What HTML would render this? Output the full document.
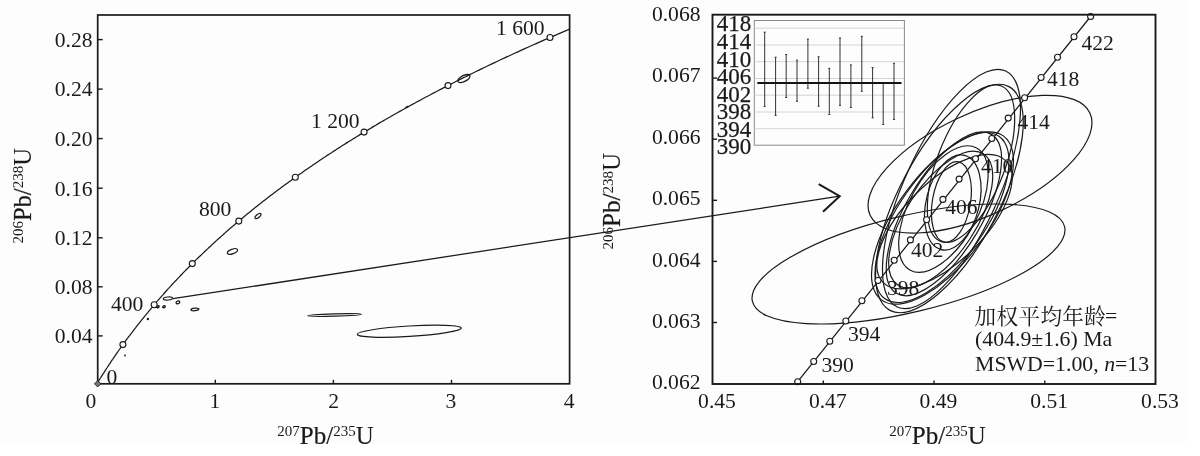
<!DOCTYPE html>
<html><head><meta charset="utf-8"><title>U-Pb concordia</title>
<style>
html,body{margin:0;padding:0;background:#fff;}
body{width:1200px;height:456px;overflow:hidden;font-family:"Liberation Serif",serif;}
svg{display:block;filter:grayscale(100%);}
text{font-family:"Liberation Serif",serif;fill:#1a1a1a;}
.t{font-size:21.6px;}
.t2{font-size:21.8px;}
.ax{font-size:24px;}
.sup{font-size:15px;}
.pb{stroke:#1a1a1a;stroke-width:0.22px;}
</style></head><body>
<svg width="1200" height="456" viewBox="0 0 1200 456">
<rect x="0" y="0" width="1200" height="456" fill="#ffffff"/>
<rect x="0" y="0" width="1185.5" height="444" fill="#fdfdfb"/>
<rect x="97.7" y="15.0" width="471.90000000000003" height="368.8" fill="none" stroke="#1a1a1a" stroke-width="1.7"/>
<line x1="97.7" y1="39.6" x2="102.7" y2="39.6" stroke="#1a1a1a" stroke-width="1.4"/>
<text x="92.5" y="46.9" text-anchor="end" class="t">0.28</text>
<line x1="97.7" y1="89.1" x2="102.7" y2="89.1" stroke="#1a1a1a" stroke-width="1.4"/>
<text x="92.5" y="96.39999999999999" text-anchor="end" class="t">0.24</text>
<line x1="97.7" y1="138.6" x2="102.7" y2="138.6" stroke="#1a1a1a" stroke-width="1.4"/>
<text x="92.5" y="145.9" text-anchor="end" class="t">0.20</text>
<line x1="97.7" y1="188.2" x2="102.7" y2="188.2" stroke="#1a1a1a" stroke-width="1.4"/>
<text x="92.5" y="195.5" text-anchor="end" class="t">0.16</text>
<line x1="97.7" y1="237.8" x2="102.7" y2="237.8" stroke="#1a1a1a" stroke-width="1.4"/>
<text x="92.5" y="245.10000000000002" text-anchor="end" class="t">0.12</text>
<line x1="97.7" y1="286.8" x2="102.7" y2="286.8" stroke="#1a1a1a" stroke-width="1.4"/>
<text x="92.5" y="294.1" text-anchor="end" class="t">0.08</text>
<line x1="97.7" y1="335.9" x2="102.7" y2="335.9" stroke="#1a1a1a" stroke-width="1.4"/>
<text x="92.5" y="343.2" text-anchor="end" class="t">0.04</text>
<text x="90.8" y="407.5" text-anchor="middle" class="t">0</text>
<line x1="215.3" y1="383.8" x2="215.3" y2="379.8" stroke="#1a1a1a" stroke-width="1.4"/>
<text x="214.8" y="407.5" text-anchor="middle" class="t">1</text>
<line x1="333.4" y1="383.8" x2="333.4" y2="379.8" stroke="#1a1a1a" stroke-width="1.4"/>
<text x="333.7" y="407.5" text-anchor="middle" class="t">2</text>
<line x1="451.5" y1="383.8" x2="451.5" y2="379.8" stroke="#1a1a1a" stroke-width="1.4"/>
<text x="451.0" y="407.5" text-anchor="middle" class="t">3</text>
<text x="569.1" y="407.5" text-anchor="middle" class="t">4</text>
<polyline fill="none" stroke="#1a1a1a" stroke-width="1.25" points="97.2,383.3 97.8,382.3 98.4,381.4 99.0,380.4 99.5,379.5 100.1,378.5 100.7,377.6 101.3,376.6 101.9,375.7 102.6,374.7 103.2,373.7 103.8,372.8 104.4,371.8 105.0,370.9 105.6,369.9 106.3,368.9 106.9,368.0 107.5,367.0 108.1,366.0 108.8,365.1 109.4,364.1 110.1,363.1 110.7,362.2 111.4,361.2 112.0,360.2 112.7,359.3 113.3,358.3 114.0,357.3 114.7,356.4 115.3,355.4 116.0,354.4 116.7,353.4 117.4,352.5 118.0,351.5 118.7,350.5 119.4,349.5 120.1,348.5 120.8,347.6 121.5,346.6 122.2,345.6 122.9,344.6 123.6,343.6 124.3,342.7 125.1,341.7 125.8,340.7 126.5,339.7 127.2,338.7 128.0,337.7 128.7,336.7 129.4,335.8 130.2,334.8 130.9,333.8 131.7,332.8 132.4,331.8 133.2,330.8 133.9,329.8 134.7,328.8 135.5,327.8 136.2,326.8 137.0,325.8 137.8,324.8 138.6,323.8 139.4,322.8 140.2,321.8 141.0,320.8 141.8,319.8 142.6,318.8 143.4,317.8 144.2,316.8 145.0,315.8 145.8,314.8 146.6,313.8 147.5,312.8 148.3,311.8 149.1,310.8 150.0,309.8 150.8,308.8 151.7,307.8 152.5,306.7 153.4,305.7 154.2,304.7 155.1,303.7 156.0,302.7 156.8,301.7 157.7,300.7 158.6,299.6 159.5,298.6 160.4,297.6 161.3,296.6 162.2,295.6 163.1,294.6 164.0,293.5 164.9,292.5 165.8,291.5 166.7,290.5 167.6,289.4 168.6,288.4 169.5,287.4 170.5,286.4 171.4,285.3 172.3,284.3 173.3,283.3 174.3,282.2 175.2,281.2 176.2,280.2 177.2,279.1 178.1,278.1 179.1,277.1 180.1,276.0 181.1,275.0 182.1,274.0 183.1,272.9 184.1,271.9 185.1,270.9 186.1,269.8 187.2,268.8 188.2,267.7 189.2,266.7 190.3,265.7 191.3,264.6 192.3,263.6 193.4,262.5 194.5,261.5 195.5,260.4 196.6,259.4 197.7,258.3 198.7,257.3 199.8,256.2 200.9,255.2 202.0,254.1 203.1,253.1 204.2,252.0 205.3,251.0 206.4,249.9 207.6,248.9 208.7,247.8 209.8,246.7 211.0,245.7 212.1,244.6 213.3,243.6 214.4,242.5 215.6,241.4 216.7,240.4 217.9,239.3 219.1,238.3 220.3,237.2 221.5,236.1 222.7,235.1 223.9,234.0 225.1,232.9 226.3,231.8 227.5,230.8 228.7,229.7 230.0,228.6 231.2,227.6 232.5,226.5 233.7,225.4 235.0,224.3 236.2,223.3 237.5,222.2 238.8,221.1 240.1,220.0 241.3,219.0 242.6,217.9 243.9,216.8 245.2,215.7 246.6,214.6 247.9,213.5 249.2,212.5 250.5,211.4 251.9,210.3 253.2,209.2 254.6,208.1 255.9,207.0 257.3,205.9 258.7,204.8 260.1,203.8 261.4,202.7 262.8,201.6 264.2,200.5 265.6,199.4 267.1,198.3 268.5,197.2 269.9,196.1 271.3,195.0 272.8,193.9 274.2,192.8 275.7,191.7 277.2,190.6 278.6,189.5 280.1,188.4 281.6,187.3 283.1,186.2 284.6,185.1 286.1,184.0 287.6,182.9 289.1,181.8 290.7,180.7 292.2,179.5 293.7,178.4 295.3,177.3 296.9,176.2 298.4,175.1 300.0,174.0 301.6,172.9 303.2,171.8 304.8,170.6 306.4,169.5 308.0,168.4 309.6,167.3 311.3,166.2 312.9,165.0 314.5,163.9 316.2,162.8 317.9,161.7 319.5,160.5 321.2,159.4 322.9,158.3 324.6,157.2 326.3,156.0 328.0,154.9 329.8,153.8 331.5,152.7 333.2,151.5 335.0,150.4 336.7,149.3 338.5,148.1 340.3,147.0 342.0,145.8 343.8,144.7 345.6,143.6 347.4,142.4 349.3,141.3 351.1,140.2 352.9,139.0 354.8,137.9 356.6,136.7 358.5,135.6 360.4,134.4 362.3,133.3 364.1,132.1 366.0,131.0 368.0,129.9 369.9,128.7 371.8,127.6 373.7,126.4 375.7,125.3 377.6,124.1 379.6,122.9 381.6,121.8 383.6,120.6 385.6,119.5 387.6,118.3 389.6,117.2 391.6,116.0 393.7,114.8 395.7,113.7 397.8,112.5 399.8,111.4 401.9,110.2 404.0,109.0 406.1,107.9 408.2,106.7 410.3,105.5 412.4,104.4 414.6,103.2 416.7,102.0 418.9,100.9 421.1,99.7 423.2,98.5 425.4,97.3 427.6,96.2 429.9,95.0 432.1,93.8 434.3,92.6 436.6,91.5 438.8,90.3 441.1,89.1 443.4,87.9 445.7,86.7 448.0,85.6 450.3,84.4 452.6,83.2 454.9,82.0 457.3,80.8 459.7,79.6 462.0,78.4 464.4,77.3 466.8,76.1 469.2,74.9 471.6,73.7 474.1,72.5 476.5,71.3 479.0,70.1 481.4,68.9 483.9,67.7 486.4,66.5 488.9,65.3 491.4,64.1 494.0,62.9 496.5,61.7 499.0,60.5 501.6,59.3 504.2,58.1 506.8,56.9 509.4,55.7 512.0,54.5 514.6,53.3 517.3,52.1 519.9,50.9 522.6,49.6 525.3,48.4 528.0,47.2 530.7,46.0 533.4,44.8 536.2,43.6 538.9,42.4 541.7,41.1 544.4,39.9 547.2,38.7 550.0,37.5 552.9,36.3 555.7,35.1 558.5,33.8 561.4,32.6 564.3,31.4 567.2,30.2 569.6,29.1"/>
<circle cx="122.9" cy="344.6" r="3" fill="#fdfdfb" stroke="#1a1a1a" stroke-width="1.1"/>
<circle cx="154.2" cy="304.7" r="3" fill="#fdfdfb" stroke="#1a1a1a" stroke-width="1.1"/>
<circle cx="192.3" cy="263.6" r="3" fill="#fdfdfb" stroke="#1a1a1a" stroke-width="1.1"/>
<circle cx="238.8" cy="221.1" r="3" fill="#fdfdfb" stroke="#1a1a1a" stroke-width="1.1"/>
<circle cx="295.3" cy="177.3" r="3" fill="#fdfdfb" stroke="#1a1a1a" stroke-width="1.1"/>
<circle cx="364.1" cy="132.1" r="3" fill="#fdfdfb" stroke="#1a1a1a" stroke-width="1.1"/>
<circle cx="448.0" cy="85.6" r="3" fill="#fdfdfb" stroke="#1a1a1a" stroke-width="1.1"/>
<circle cx="550.0" cy="37.5" r="3" fill="#fdfdfb" stroke="#1a1a1a" stroke-width="1.1"/>
<path d="M94.5,383.8 L97.7,380.6 L100.9,383.8 L97.7,387.0 Z" fill="#777" stroke="#1a1a1a" stroke-width="0.9"/>
<text x="106.5" y="383.5" class="t">0</text>
<text x="111" y="311" class="t">400</text>
<text x="199" y="216" class="t">800</text>
<text x="311" y="128.4" class="t">1 200</text>
<text x="496" y="35" class="t">1 600</text>
<ellipse cx="334.5" cy="315" rx="26.8" ry="1.1" transform="rotate(-1.8 334.5 315)" fill="none" stroke="#1a1a1a" stroke-width="1.2"/>
<ellipse cx="409.3" cy="331.2" rx="52.1" ry="5.2" transform="rotate(-3.5 409.3 331.2)" fill="none" stroke="#1a1a1a" stroke-width="1.2"/>
<ellipse cx="463.9" cy="78.5" rx="6.6" ry="3.0" transform="rotate(-27 463.9 78.5)" fill="none" stroke="#1a1a1a" stroke-width="1.35"/>
<ellipse cx="258" cy="216" rx="3.6" ry="1.6" transform="rotate(-40 258 216)" fill="none" stroke="#1a1a1a" stroke-width="1.25"/>
<ellipse cx="232.5" cy="251.5" rx="5.3" ry="2.3" transform="rotate(-20 232.5 251.5)" fill="none" stroke="#1a1a1a" stroke-width="1.25"/>
<ellipse cx="167.9" cy="298.5" rx="4.6" ry="1.5" transform="rotate(-5 167.9 298.5)" fill="none" stroke="#1a1a1a" stroke-width="1.2"/>
<ellipse cx="177.9" cy="302.4" rx="1.9" ry="1.4" transform="rotate(-20 177.9 302.4)" fill="none" stroke="#1a1a1a" stroke-width="1.3"/>
<ellipse cx="164" cy="306.8" rx="1.3" ry="0.9" transform="rotate(-20 164 306.8)" fill="none" stroke="#1a1a1a" stroke-width="1.4"/>
<ellipse cx="157.9" cy="306.8" rx="1.3" ry="0.9" transform="rotate(-20 157.9 306.8)" fill="none" stroke="#1a1a1a" stroke-width="1.4"/>
<ellipse cx="194.9" cy="309.4" rx="4.0" ry="1.3" transform="rotate(-5 194.9 309.4)" fill="none" stroke="#1a1a1a" stroke-width="1.25"/>
<circle cx="147.9" cy="319" r="1.2" fill="#1a1a1a"/>
<circle cx="125" cy="355.5" r="0.9" fill="#1a1a1a"/>
<line x1="405.5" y1="107.6" x2="408.5" y2="106.2" stroke="#1a1a1a" stroke-width="1.6"/>
<line x1="173" y1="298.7" x2="839.7" y2="196.2" stroke="#1a1a1a" stroke-width="1.25"/>
<polyline points="818.7,184.2 839.7,196.2 823,211.7" fill="none" stroke="#1a1a1a" stroke-width="2.0" stroke-linejoin="miter"/>
<text x="325.5" y="443.6" text-anchor="middle" class="ax" style="font-size:25px"><tspan class="sup" dy="-7.5">207</tspan><tspan dy="7.5" class="pb">Pb/</tspan><tspan class="sup" dy="-7.5">235</tspan><tspan dy="7.5">U</tspan></text>
<text x="30.8" y="195.8" text-anchor="middle" class="ax" style="font-size:24.6px" transform="rotate(-90 30.8 195.8)"><tspan class="sup" dy="-7.5">206</tspan><tspan dy="7.5" class="pb">Pb/</tspan><tspan class="sup" dy="-7.5">238</tspan><tspan dy="7.5">U</tspan></text>
<text x="700.5" y="389.4" text-anchor="end" class="t">0.062</text>
<line x1="712.5" y1="322.5" x2="717.0" y2="322.5" stroke="#1a1a1a" stroke-width="1.4"/>
<text x="700.5" y="327.9" text-anchor="end" class="t">0.063</text>
<line x1="712.5" y1="261.4" x2="717.0" y2="261.4" stroke="#1a1a1a" stroke-width="1.4"/>
<text x="700.5" y="266.5" text-anchor="end" class="t">0.064</text>
<line x1="712.5" y1="200.3" x2="717.0" y2="200.3" stroke="#1a1a1a" stroke-width="1.4"/>
<text x="700.5" y="205.0" text-anchor="end" class="t">0.065</text>
<line x1="712.5" y1="139.2" x2="717.0" y2="139.2" stroke="#1a1a1a" stroke-width="1.4"/>
<text x="700.5" y="143.6" text-anchor="end" class="t">0.066</text>
<line x1="712.5" y1="78.1" x2="717.0" y2="78.1" stroke="#1a1a1a" stroke-width="1.4"/>
<text x="700.5" y="82.1" text-anchor="end" class="t">0.067</text>
<text x="700.5" y="20.7" text-anchor="end" class="t">0.068</text>
<text x="717.0" y="407.5" text-anchor="middle" class="t">0.45</text>
<line x1="823.3" y1="384.0" x2="823.3" y2="380.5" stroke="#1a1a1a" stroke-width="1.4"/>
<text x="827.8" y="407.5" text-anchor="middle" class="t">0.47</text>
<line x1="934.0" y1="384.0" x2="934.0" y2="380.5" stroke="#1a1a1a" stroke-width="1.4"/>
<text x="938.5" y="407.5" text-anchor="middle" class="t">0.49</text>
<line x1="1044.8" y1="384.0" x2="1044.8" y2="380.5" stroke="#1a1a1a" stroke-width="1.4"/>
<text x="1049.2" y="407.5" text-anchor="middle" class="t">0.51</text>
<text x="1160.0" y="407.5" text-anchor="middle" class="t">0.53</text>
<text x="937.5" y="443.8" text-anchor="middle" class="ax" style="font-size:25px"><tspan class="sup" dy="-7.5">207</tspan><tspan dy="7.5" class="pb">Pb/</tspan><tspan class="sup" dy="-7.5">235</tspan><tspan dy="7.5">U</tspan></text>
<text x="620.2" y="201.2" text-anchor="middle" class="ax" style="font-size:25.2px" transform="rotate(-90 620.2 201.2)"><tspan class="sup" dy="-7.5">206</tspan><tspan dy="7.5" class="pb">Pb/</tspan><tspan class="sup" dy="-7.5">238</tspan><tspan dy="7.5">U</tspan></text>
<line x1="797.7" y1="381.7" x2="1090.6" y2="16.5" stroke="#1a1a1a" stroke-width="1.25"/>
<text x="821.5" y="371.5" class="t">390</text>
<text x="848" y="340.7" class="t">394</text>
<text x="887" y="295" class="t">398</text>
<text x="911" y="256.5" class="t">402</text>
<text x="945.2" y="214" class="t">406</text>
<text x="981" y="173.3" class="t">410</text>
<text x="1017.5" y="129.3" class="t">414</text>
<text x="1047" y="85.5" class="t">418</text>
<text x="1081.5" y="50.4" class="t">422</text>
<ellipse cx="951.5" cy="189.0" rx="129.9" ry="47.0" transform="rotate(-65.34 951.5 189.0)" fill="none" stroke="#1a1a1a" stroke-width="1.2"/>
<ellipse cx="949.4" cy="198.5" rx="126.7" ry="49.5" transform="rotate(-61.98 949.4 198.5)" fill="none" stroke="#1a1a1a" stroke-width="1.2"/>
<ellipse cx="971.0" cy="163.7" rx="83.4" ry="33.8" transform="rotate(-68.70 971.0 163.7)" fill="none" stroke="#1a1a1a" stroke-width="1.2"/>
<ellipse cx="980.0" cy="164.2" rx="121.2" ry="50.9" transform="rotate(-24.95 980.0 164.2)" fill="none" stroke="#1a1a1a" stroke-width="1.2"/>
<ellipse cx="908.5" cy="264.0" rx="160.5" ry="48.2" transform="rotate(-13.48 908.5 264.0)" fill="none" stroke="#1a1a1a" stroke-width="1.2"/>
<ellipse cx="951.4" cy="202.0" rx="40.8" ry="19.0" transform="rotate(-80.21 951.4 202.0)" fill="none" stroke="#1a1a1a" stroke-width="1.2"/>
<ellipse cx="952.8" cy="202.5" rx="48.5" ry="26.5" transform="rotate(-75.95 952.8 202.5)" fill="none" stroke="#1a1a1a" stroke-width="1.2"/>
<ellipse cx="942.5" cy="218.0" rx="102.2" ry="45.0" transform="rotate(-53.24 942.5 218.0)" fill="none" stroke="#1a1a1a" stroke-width="1.2"/>
<ellipse cx="942.0" cy="217.5" rx="99.3" ry="43.1" transform="rotate(-55.00 942.0 217.5)" fill="none" stroke="#1a1a1a" stroke-width="1.2"/>
<ellipse cx="943.9" cy="213.8" rx="92.5" ry="38.1" transform="rotate(-59.17 943.9 213.8)" fill="none" stroke="#1a1a1a" stroke-width="1.2"/>
<ellipse cx="940.7" cy="219.5" rx="78.2" ry="35.1" transform="rotate(-56.74 940.7 219.5)" fill="none" stroke="#1a1a1a" stroke-width="1.2"/>
<ellipse cx="943.4" cy="209.1" rx="69.5" ry="34.1" transform="rotate(-61.48 943.4 209.1)" fill="none" stroke="#1a1a1a" stroke-width="1.2"/>
<ellipse cx="944.5" cy="221.6" rx="86.4" ry="39.8" transform="rotate(-44.67 944.5 221.6)" fill="none" stroke="#1a1a1a" stroke-width="1.2"/>
<circle cx="797.7" cy="381.7" r="3" fill="#fdfdfb" stroke="#1a1a1a" stroke-width="1.1"/>
<circle cx="813.7" cy="361.5" r="3" fill="#fdfdfb" stroke="#1a1a1a" stroke-width="1.1"/>
<circle cx="829.8" cy="341.3" r="3" fill="#fdfdfb" stroke="#1a1a1a" stroke-width="1.1"/>
<circle cx="845.8" cy="321.0" r="3" fill="#fdfdfb" stroke="#1a1a1a" stroke-width="1.1"/>
<circle cx="861.9" cy="300.7" r="3" fill="#fdfdfb" stroke="#1a1a1a" stroke-width="1.1"/>
<circle cx="878.0" cy="280.5" r="3" fill="#fdfdfb" stroke="#1a1a1a" stroke-width="1.1"/>
<circle cx="894.2" cy="260.2" r="3" fill="#fdfdfb" stroke="#1a1a1a" stroke-width="1.1"/>
<circle cx="910.4" cy="239.9" r="3" fill="#fdfdfb" stroke="#1a1a1a" stroke-width="1.1"/>
<circle cx="926.6" cy="219.7" r="3" fill="#fdfdfb" stroke="#1a1a1a" stroke-width="1.1"/>
<circle cx="942.9" cy="199.4" r="3" fill="#fdfdfb" stroke="#1a1a1a" stroke-width="1.1"/>
<circle cx="959.1" cy="179.1" r="3" fill="#fdfdfb" stroke="#1a1a1a" stroke-width="1.1"/>
<circle cx="975.5" cy="158.8" r="3" fill="#fdfdfb" stroke="#1a1a1a" stroke-width="1.1"/>
<circle cx="991.8" cy="138.5" r="3" fill="#fdfdfb" stroke="#1a1a1a" stroke-width="1.1"/>
<circle cx="1008.2" cy="118.1" r="3" fill="#fdfdfb" stroke="#1a1a1a" stroke-width="1.1"/>
<circle cx="1024.6" cy="97.8" r="3" fill="#fdfdfb" stroke="#1a1a1a" stroke-width="1.1"/>
<circle cx="1041.1" cy="77.5" r="3" fill="#fdfdfb" stroke="#1a1a1a" stroke-width="1.1"/>
<circle cx="1057.5" cy="57.2" r="3" fill="#fdfdfb" stroke="#1a1a1a" stroke-width="1.1"/>
<circle cx="1074.0" cy="36.8" r="3" fill="#fdfdfb" stroke="#1a1a1a" stroke-width="1.1"/>
<circle cx="1090.6" cy="16.5" r="3" fill="#fdfdfb" stroke="#1a1a1a" stroke-width="1.1"/>
<rect x="712.5" y="14.7" width="443.0" height="369.3" fill="none" stroke="#1a1a1a" stroke-width="1.9"/>
<rect x="754.3" y="20.5" width="150.10000000000002" height="124.69999999999999" fill="#fdfdfb" stroke="#8a8a8a" stroke-width="1"/>
<line x1="754.3" y1="28.2" x2="904.4" y2="28.2" stroke="#cfcfcf" stroke-width="0.9"/>
<line x1="754.3" y1="45.0" x2="904.4" y2="45.0" stroke="#cfcfcf" stroke-width="0.9"/>
<line x1="754.3" y1="61.7" x2="904.4" y2="61.7" stroke="#cfcfcf" stroke-width="0.9"/>
<line x1="754.3" y1="78.5" x2="904.4" y2="78.5" stroke="#cfcfcf" stroke-width="0.9"/>
<line x1="754.3" y1="95.2" x2="904.4" y2="95.2" stroke="#cfcfcf" stroke-width="0.9"/>
<line x1="754.3" y1="112.0" x2="904.4" y2="112.0" stroke="#cfcfcf" stroke-width="0.9"/>
<line x1="754.3" y1="128.7" x2="904.4" y2="128.7" stroke="#cfcfcf" stroke-width="0.9"/>
<line x1="764.7" y1="32.2" x2="764.7" y2="106.6" stroke="#333" stroke-width="1.0"/>
<line x1="763.7" y1="32.2" x2="765.7" y2="32.2" stroke="#333" stroke-width="1.0"/>
<line x1="763.7" y1="106.6" x2="765.7" y2="106.6" stroke="#333" stroke-width="1.0"/>
<line x1="775.6" y1="57.2" x2="775.6" y2="115.4" stroke="#333" stroke-width="1.0"/>
<line x1="774.6" y1="57.2" x2="776.6" y2="57.2" stroke="#333" stroke-width="1.0"/>
<line x1="774.6" y1="115.4" x2="776.6" y2="115.4" stroke="#333" stroke-width="1.0"/>
<line x1="786.2" y1="54.5" x2="786.2" y2="97.5" stroke="#333" stroke-width="1.0"/>
<line x1="785.2" y1="54.5" x2="787.2" y2="54.5" stroke="#333" stroke-width="1.0"/>
<line x1="785.2" y1="97.5" x2="787.2" y2="97.5" stroke="#333" stroke-width="1.0"/>
<line x1="797" y1="60.2" x2="797" y2="101.3" stroke="#333" stroke-width="1.0"/>
<line x1="796" y1="60.2" x2="798" y2="60.2" stroke="#333" stroke-width="1.0"/>
<line x1="796" y1="101.3" x2="798" y2="101.3" stroke="#333" stroke-width="1.0"/>
<line x1="807.9" y1="39.1" x2="807.9" y2="88.2" stroke="#333" stroke-width="1.0"/>
<line x1="806.9" y1="39.1" x2="808.9" y2="39.1" stroke="#333" stroke-width="1.0"/>
<line x1="806.9" y1="88.2" x2="808.9" y2="88.2" stroke="#333" stroke-width="1.0"/>
<line x1="818.6" y1="56.8" x2="818.6" y2="106.2" stroke="#333" stroke-width="1.0"/>
<line x1="817.6" y1="56.8" x2="819.6" y2="56.8" stroke="#333" stroke-width="1.0"/>
<line x1="817.6" y1="106.2" x2="819.6" y2="106.2" stroke="#333" stroke-width="1.0"/>
<line x1="829.3" y1="68.3" x2="829.3" y2="114.5" stroke="#333" stroke-width="1.0"/>
<line x1="828.3" y1="68.3" x2="830.3" y2="68.3" stroke="#333" stroke-width="1.0"/>
<line x1="828.3" y1="114.5" x2="830.3" y2="114.5" stroke="#333" stroke-width="1.0"/>
<line x1="840" y1="38" x2="840" y2="105.4" stroke="#333" stroke-width="1.0"/>
<line x1="839" y1="38" x2="841" y2="38" stroke="#333" stroke-width="1.0"/>
<line x1="839" y1="105.4" x2="841" y2="105.4" stroke="#333" stroke-width="1.0"/>
<line x1="850.9" y1="64.9" x2="850.9" y2="107.4" stroke="#333" stroke-width="1.0"/>
<line x1="849.9" y1="64.9" x2="851.9" y2="64.9" stroke="#333" stroke-width="1.0"/>
<line x1="849.9" y1="107.4" x2="851.9" y2="107.4" stroke="#333" stroke-width="1.0"/>
<line x1="861.8" y1="36.3" x2="861.8" y2="91.3" stroke="#333" stroke-width="1.0"/>
<line x1="860.8" y1="36.3" x2="862.8" y2="36.3" stroke="#333" stroke-width="1.0"/>
<line x1="860.8" y1="91.3" x2="862.8" y2="91.3" stroke="#333" stroke-width="1.0"/>
<line x1="872.6" y1="67.6" x2="872.6" y2="117.9" stroke="#333" stroke-width="1.0"/>
<line x1="871.6" y1="67.6" x2="873.6" y2="67.6" stroke="#333" stroke-width="1.0"/>
<line x1="871.6" y1="117.9" x2="873.6" y2="117.9" stroke="#333" stroke-width="1.0"/>
<line x1="883.2" y1="83" x2="883.2" y2="124.5" stroke="#333" stroke-width="1.0"/>
<line x1="882.2" y1="83" x2="884.2" y2="83" stroke="#333" stroke-width="1.0"/>
<line x1="882.2" y1="124.5" x2="884.2" y2="124.5" stroke="#333" stroke-width="1.0"/>
<line x1="894" y1="63.3" x2="894" y2="119.5" stroke="#333" stroke-width="1.0"/>
<line x1="893" y1="63.3" x2="895" y2="63.3" stroke="#333" stroke-width="1.0"/>
<line x1="893" y1="119.5" x2="895" y2="119.5" stroke="#333" stroke-width="1.0"/>
<line x1="757.3" y1="83" x2="901.5" y2="83" stroke="#151515" stroke-width="2.1"/>
<text x="716.8" y="31.4" class="t" style="font-size:23px;stroke:#1a1a1a;stroke-width:0.25px">418</text>
<text x="716.8" y="48.9" class="t" style="font-size:23px;stroke:#1a1a1a;stroke-width:0.25px">414</text>
<text x="716.8" y="66.5" class="t" style="font-size:23px;stroke:#1a1a1a;stroke-width:0.25px">410</text>
<text x="716.8" y="84.0" class="t" style="font-size:23px;stroke:#1a1a1a;stroke-width:0.25px">406</text>
<text x="716.8" y="101.6" class="t" style="font-size:23px;stroke:#1a1a1a;stroke-width:0.25px">402</text>
<text x="716.8" y="119.1" class="t" style="font-size:23px;stroke:#1a1a1a;stroke-width:0.25px">398</text>
<text x="716.8" y="136.6" class="t" style="font-size:23px;stroke:#1a1a1a;stroke-width:0.25px">394</text>
<text x="716.8" y="154.2" class="t" style="font-size:23px;stroke:#1a1a1a;stroke-width:0.25px">390</text>
<text x="974.6" y="323.6" class="t" style="font-family:'Liberation Serif','Noto Serif CJK SC',serif;letter-spacing:0.35px">加权平均年龄</text>
<text x="1105.1" y="322.8" class="t2">=</text>
<text x="975" y="346" class="t2">(404.9±1.6) Ma</text>
<text x="975" y="370.6" class="t2">MSWD=1.00, <tspan font-style="italic">n</tspan>=13</text>
</svg>
</body></html>
